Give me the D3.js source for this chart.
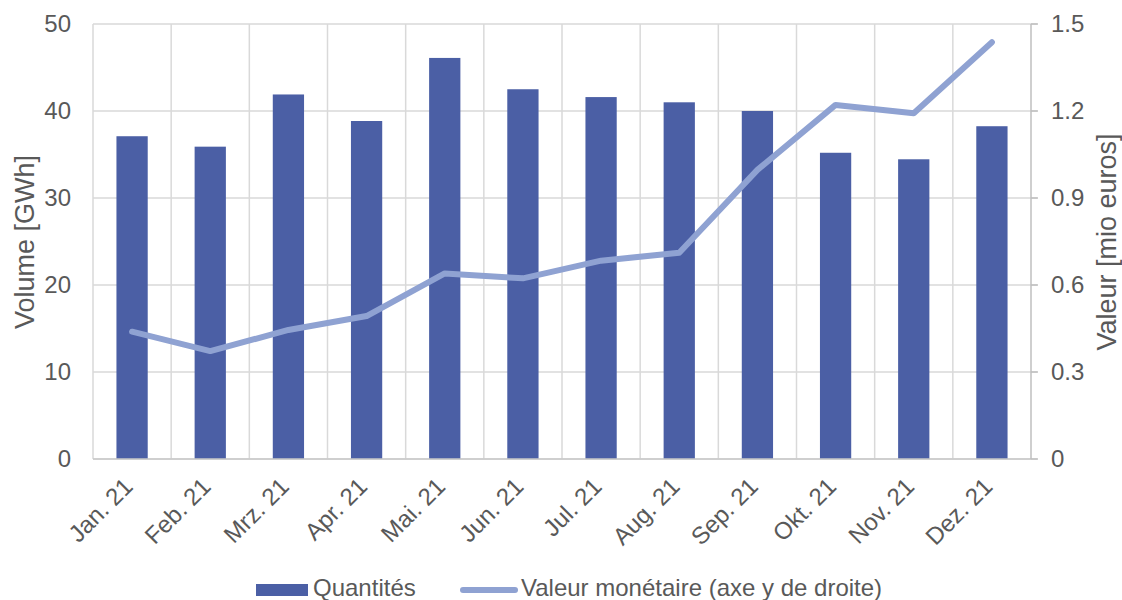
<!DOCTYPE html>
<html>
<head>
<meta charset="utf-8">
<script src="https://cdn.jsdelivr.net/npm/d3@7"></script>
<style>
  html, body { margin: 0; padding: 0; background: #fff; }
  svg { display: block; font-family: "Liberation Sans", Arial, sans-serif; }
</style>
</head>
<body>
<svg id="chart" width="1122" height="600"></svg>
<script>
const categories = ["Jan. 21","Feb. 21","Mrz. 21","Apr. 21","Mai. 21","Jun. 21","Jul. 21","Aug. 21","Sep. 21","Okt. 21","Nov. 21","Dez. 21"];
const volumes = [37.1, 35.9, 41.9, 38.85, 46.1, 42.5, 41.6, 41.0, 40.0, 35.2, 34.45, 38.25];
const values = [0.439, 0.372, 0.445, 0.493, 0.640, 0.623, 0.684, 0.711, 0.997, 1.221, 1.192, 1.437];
const leftTicks = [0, 10, 20, 30, 40, 50];
const rightTicks = [0, 0.3, 0.6, 0.9, 1.2, 1.5];
const seriesNames = ["Quantités", "Valeur monétaire (axe y de droite)"];
const axisTitles = ["Volume [GWh]", "Valeur [mio euros]"];

const svg = d3.select("#chart");
const m = {left: 93, right: 1031, top: 24, bottom: 459};
const textColor = "#595959";
const gridColor = "#d9d9d9";
const barColor = "#4b5fa5";
const lineColor = "#8fa2d2";
const fs = 24;
const titleFs = 27;

const x = d3.scaleBand().domain(categories).range([m.left, m.right]).paddingInner(0.6).paddingOuter(0.3);
const xb = d3.scaleBand().domain(categories).range([m.left, m.right]);
const yL = d3.scaleLinear().domain([0, 50]).range([m.bottom, m.top]);
const yR = d3.scaleLinear().domain([0, 1.5]).range([m.bottom, m.top]);

// horizontal gridlines
svg.append("g").selectAll("line").data(leftTicks).join("line")
  .attr("x1", m.left).attr("x2", m.right + 6)
  .attr("y1", d => yL(d)).attr("y2", d => yL(d))
  .attr("stroke", gridColor).attr("stroke-width", 1.5);

// vertical gridlines at category boundaries
svg.append("g").selectAll("line").data(categories).join("line")
  .attr("x1", d => xb(d)).attr("x2", d => xb(d))
  .attr("y1", m.top).attr("y2", m.bottom)
  .attr("stroke", gridColor).attr("stroke-width", 1.5);

// bars
svg.append("g").selectAll("rect").data(categories).join("rect")
  .attr("x", d => x(d)).attr("width", x.bandwidth())
  .attr("y", (d, i) => yL(volumes[i]))
  .attr("height", (d, i) => m.bottom - yL(volumes[i]))
  .attr("fill", barColor);

// bottom axis line
svg.append("line").attr("x1", m.left).attr("x2", m.right)
  .attr("y1", m.bottom).attr("y2", m.bottom)
  .attr("stroke", "#c8c8c8").attr("stroke-width", 1.5);

// right axis line + ticks
svg.append("line").attr("x1", m.right).attr("x2", m.right)
  .attr("y1", m.top).attr("y2", m.bottom)
  .attr("stroke", "#bfbfbf").attr("stroke-width", 1.5);
svg.append("g").selectAll("line").data(rightTicks).join("line")
  .attr("x1", m.right).attr("x2", m.right + 7)
  .attr("y1", d => yR(d)).attr("y2", d => yR(d))
  .attr("stroke", "#bfbfbf").attr("stroke-width", 1.5);

// line series
const line = d3.line().x((d, i) => xb(categories[i]) + xb.bandwidth() / 2).y(d => yR(d));
svg.append("path").datum(values).attr("d", line)
  .attr("fill", "none").attr("stroke", lineColor).attr("stroke-width", 6)
  .attr("stroke-linecap", "round").attr("stroke-linejoin", "round");

// left tick labels
svg.append("g").selectAll("text").data(leftTicks).join("text")
  .attr("x", 71).attr("y", d => yL(d)).attr("dy", "0.35em")
  .attr("text-anchor", "end").attr("fill", textColor).attr("font-size", fs)
  .text(d => d);

// right tick labels
svg.append("g").selectAll("text").data(rightTicks).join("text")
  .attr("x", 1051).attr("y", d => yR(d)).attr("dy", "0.35em")
  .attr("text-anchor", "start").attr("fill", textColor).attr("font-size", fs)
  .text(d => d === 0 ? "0" : d3.format(".1f")(d));

// x labels rotated
svg.append("g").selectAll("text").data(categories).join("text")
  .attr("transform", d => `translate(${xb(d) + xb.bandwidth() / 2 + 2},${m.bottom + 29}) rotate(-45)`)
  .attr("text-anchor", "end")
  .attr("fill", textColor).attr("font-size", fs)
  .text(d => d);

// axis titles
svg.append("text").attr("transform", `translate(25,242) rotate(-90)`)
  .attr("text-anchor", "middle").attr("dy", "0.35em")
  .attr("fill", textColor).attr("font-size", titleFs).text(axisTitles[0]);
svg.append("text").attr("transform", `translate(1107,242) rotate(-90)`)
  .attr("text-anchor", "middle").attr("dy", "0.35em")
  .attr("fill", textColor).attr("font-size", titleFs).text(axisTitles[1]);

// legend
const lg = svg.append("g");
lg.append("rect").attr("x", 256).attr("y", 584).attr("width", 52).attr("height", 12).attr("fill", barColor);
lg.append("text").attr("x", 313).attr("y", 596).attr("fill", textColor).attr("font-size", fs).text(seriesNames[0]);
lg.append("line").attr("x1", 463).attr("x2", 515).attr("y1", 590).attr("y2", 590)
  .attr("stroke", lineColor).attr("stroke-width", 6).attr("stroke-linecap", "round");
lg.append("text").attr("x", 521).attr("y", 596).attr("fill", textColor).attr("font-size", fs).text(seriesNames[1]);
</script>
</body>
</html>
